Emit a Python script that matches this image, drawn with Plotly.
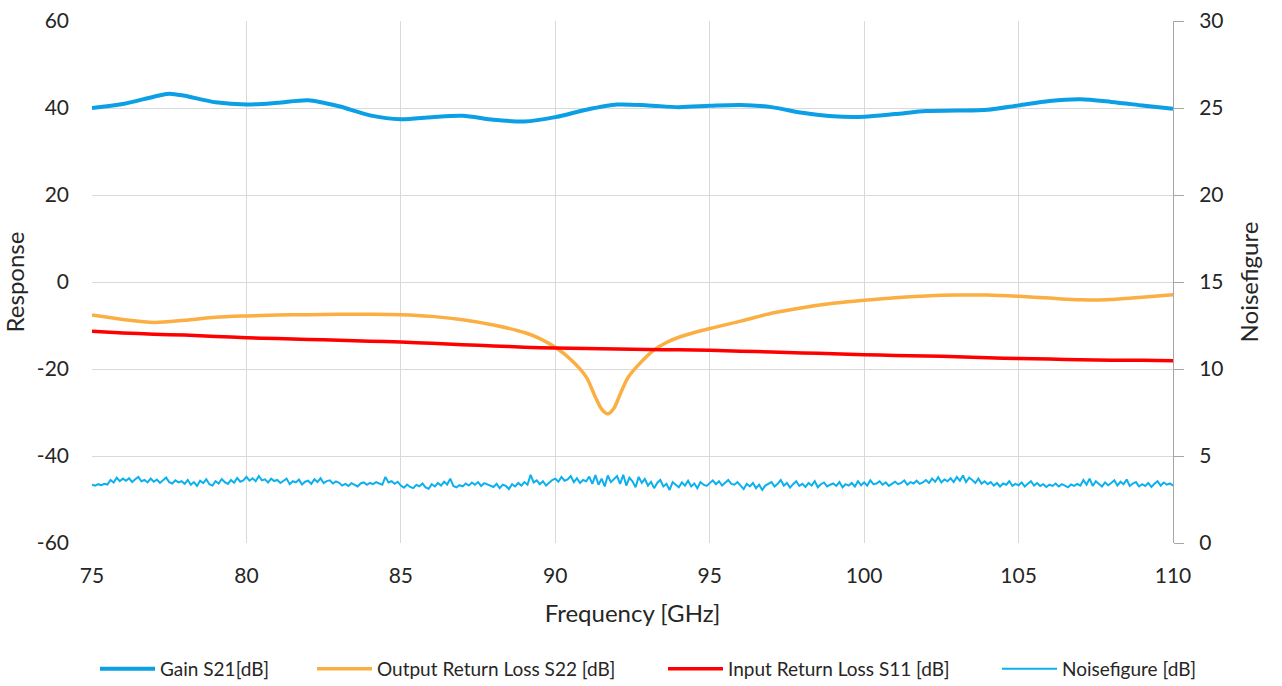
import plotly.graph_objects as go

# ---------------- data ----------------
gain_freq = [75, 76, 77, 77.5, 78, 79, 80, 81, 82, 83, 84, 85, 86, 87, 88, 89, 90, 91, 92, 93,
             94, 95, 96, 97, 98, 99, 100, 101, 102, 103, 104, 105, 106, 107, 108, 109, 110]
gain_s21 = [40.0, 40.9, 42.6, 43.3, 42.8, 41.3, 40.8, 41.2, 41.8, 40.4, 38.3, 37.4, 37.9, 38.2,
            37.3, 36.9, 37.9, 39.6, 40.8, 40.6, 40.2, 40.5, 40.7, 40.2, 38.9, 38.1, 38.0, 38.6,
            39.3, 39.4, 39.6, 40.6, 41.6, 42.0, 41.4, 40.6, 39.8]

s22_freq = [75, 76, 77, 78, 79, 80, 81, 82, 83, 84, 85, 86, 87, 88, 89, 89.5, 90, 90.5, 91,
            91.3, 91.5, 91.7, 91.9, 92.1, 92.35, 92.7, 93.2, 93.6, 94, 95, 96, 97, 98, 99, 100,
            101, 102, 103, 104, 105, 106, 107, 108, 109, 110]
s22 = [-7.6, -8.6, -9.3, -8.8, -8.1, -7.8, -7.6, -7.5, -7.4, -7.4, -7.5, -7.9, -8.7, -9.9,
       -11.6, -13.0, -15.0, -17.8, -21.8, -26.5, -29.2, -30.3, -29.0, -25.8, -22.0, -19.0,
       -15.6, -13.9, -12.7, -10.7, -9.0, -7.2, -5.9, -4.9, -4.2, -3.6, -3.2, -3.0, -3.0,
       -3.3, -3.7, -4.1, -4.0, -3.5, -2.9]

s11_freq = list(range(75, 111))
s11 = [-11.3, -11.7, -12.0, -12.2, -12.5, -12.8, -13.0, -13.2, -13.4, -13.6, -13.8, -14.1,
       -14.4, -14.7, -15.0, -15.2, -15.3, -15.4, -15.5, -15.6, -15.7, -15.9, -16.1, -16.3,
       -16.5, -16.7, -16.9, -17.0, -17.2, -17.4, -17.6, -17.7, -17.9, -18.0, -18.0, -18.1]

nf_values = [
    3.35, 3.30, 3.38, 3.32, 3.40, 3.36, 3.62, 3.48, 3.75, 3.55,
    3.70, 3.58, 3.72, 3.50, 3.66, 3.80, 3.55, 3.62, 3.48, 3.70,
    3.52, 3.64, 3.45, 3.58, 3.76, 3.50, 3.42, 3.60, 3.48, 3.55,
    3.40, 3.62, 3.35, 3.50, 3.28, 3.58, 3.44, 3.66, 3.38, 3.30,
    3.55, 3.42, 3.68, 3.50, 3.40, 3.62, 3.46, 3.74, 3.52, 3.60,
    3.80, 3.58, 3.72, 3.55, 3.85, 3.60, 3.66, 3.48, 3.70, 3.56,
    3.62, 3.45, 3.58, 3.70, 3.38, 3.55, 3.48, 3.64, 3.36, 3.52,
    3.58, 3.40, 3.66, 3.50, 3.72, 3.44, 3.56, 3.60, 3.42, 3.54,
    3.46, 3.30, 3.40, 3.28, 3.44, 3.36, 3.25, 3.42, 3.48, 3.34,
    3.45, 3.38, 3.50, 3.42, 3.35, 3.80, 3.48, 3.55, 3.40, 3.52,
    3.30, 3.18, 3.36, 3.22, 3.15, 3.34, 3.26, 3.42, 3.20, 3.12,
    3.38, 3.25, 3.45, 3.30, 3.52, 3.36, 3.70, 3.28, 3.20, 3.32,
    3.25, 3.42, 3.30, 3.48, 3.35, 3.50, 3.28, 3.44, 3.38, 3.30,
    3.22, 3.40, 3.15, 3.35, 3.28, 3.10, 3.38, 3.25, 3.45, 3.30,
    3.50, 3.35, 3.92, 3.48, 3.60, 3.38, 3.55, 3.30, 3.45, 3.62,
    3.70, 3.52, 3.80, 3.58, 3.66, 3.85, 3.50, 3.72, 3.45, 3.62,
    3.55, 3.82, 3.40, 3.90, 3.35, 3.70, 3.25, 3.88, 3.50, 3.65,
    3.85, 3.40, 3.92, 3.30, 3.75, 3.55, 3.20, 3.80, 3.45, 3.68,
    3.30, 3.52, 3.15, 3.45, 3.62, 3.25, 3.40, 3.05, 3.50, 3.35,
    3.20, 3.48, 3.30, 3.58, 3.25, 3.42, 3.15, 3.50, 3.35, 3.28,
    3.45, 3.60, 3.38, 3.55, 3.30, 3.48, 3.62, 3.40, 3.35, 3.50,
    3.28, 3.10, 3.40, 3.25, 3.45, 3.15, 3.35, 3.05, 3.30, 3.42,
    3.50, 3.25, 3.40, 3.62, 3.30, 3.45, 3.18, 3.38, 3.55, 3.28,
    3.40, 3.22, 3.45, 3.30, 3.55, 3.20, 3.38, 3.48, 3.25, 3.35,
    3.42, 3.28, 3.50, 3.20, 3.38, 3.30, 3.45, 3.25, 3.55, 3.32,
    3.48, 3.30, 3.60, 3.38, 3.42, 3.55, 3.35, 3.48, 3.28, 3.40,
    3.52, 3.38, 3.45, 3.60, 3.35, 3.50, 3.42, 3.58, 3.40, 3.48,
    3.62, 3.45, 3.70, 3.52, 3.78, 3.48, 3.65, 3.55, 3.72, 3.50,
    3.80, 3.58, 3.88, 3.50, 3.75, 3.62, 3.45, 3.70, 3.40, 3.55,
    3.38, 3.50, 3.30, 3.45, 3.25, 3.42, 3.35, 3.55, 3.28, 3.40,
    3.32, 3.48, 3.25, 3.40, 3.55, 3.30, 3.45, 3.28, 3.38, 3.22,
    3.35, 3.28, 3.42, 3.25, 3.38, 3.30, 3.20, 3.36, 3.28, 3.40,
    3.30, 3.62, 3.35, 3.70, 3.28, 3.55, 3.40, 3.25, 3.48, 3.32,
    3.45, 3.60, 3.30, 3.52, 3.38, 3.65, 3.28, 3.42, 3.50, 3.25,
    3.38, 3.28, 3.45, 3.22, 3.40, 3.55, 3.30, 3.48, 3.35, 3.42,
    3.30,
]
nf_freq = [round(75 + 0.1 * i, 1) for i in range(len(nf_values))]

x_ticks = [75, 80, 85, 90, 95, 100, 105, 110]
y_ticks = [-60, -40, -20, 0, 20, 40, 60]
y_ticktext = ["-60", "-40", "-20", "0", "20", "40", "60"]
y2_ticks = [0, 5, 10, 15, 20, 25, 30]

# ---------------- figure ----------------
FONT = "Lato"
GRID = "#d9d9d9"
TXT = "#262626"
L, R, T, B = 92, 109, 21, 143
PW = 1282 - L - R

def legend_at(px):
    return dict(orientation="h", xref="paper", x=(px - L) / PW, xanchor="left",
                yref="container", y=(686 - 669) / 686, yanchor="middle",
                font=dict(size=19, family=FONT, color=TXT), itemwidth=55,
                bgcolor="rgba(0,0,0,0)", borderwidth=0)

fig = go.Figure()
fig.add_trace(go.Scatter(x=gain_freq, y=gain_s21, name="Gain S21[dB]", mode="lines",
                         legend="legend",
                         line=dict(color="#0B9FE6", width=4, shape="spline", smoothing=0.8)))
fig.add_trace(go.Scatter(x=s22_freq, y=s22, name="Output Return Loss S22 [dB]", mode="lines",
                         legend="legend2",
                         line=dict(color="#FBAE42", width=3.5, shape="spline", smoothing=0.8)))
fig.add_trace(go.Scatter(x=s11_freq, y=s11, name="Input Return Loss S11 [dB]", mode="lines",
                         legend="legend3",
                         line=dict(color="#FF0000", width=3.5, shape="spline", smoothing=0.6)))
fig.add_trace(go.Scatter(x=nf_freq, y=nf_values, name="Noisefigure [dB]", mode="lines",
                         yaxis="y2", legend="legend4",
                         line=dict(color="#0DB0EE", width=2)))

fig.update_layout(
    width=1282, height=686,
    margin=dict(l=L, r=R, t=T, b=B, autoexpand=False),
    paper_bgcolor="white", plot_bgcolor="white",
    font=dict(family=FONT, color=TXT, size=21),
    showlegend=True,
    legend=legend_at(95),
    legend2=legend_at(312),
    legend3=legend_at(663),
    legend4=legend_at(997),
    xaxis=dict(range=[75, 110], tickvals=x_ticks, showgrid=True, gridcolor=GRID, gridwidth=1,
               zeroline=False, showline=False, ticks="", ticklabelstandoff=18,
               title=dict(text="Frequency [GHz]", font=dict(size=24), standoff=19)),
    yaxis=dict(range=[-60, 60], tickvals=y_ticks, ticktext=y_ticktext, showgrid=True,
               gridcolor=GRID, gridwidth=1, zeroline=False, showline=False, ticks="",
               ticklabelstandoff=22,
               title=dict(text="Response", font=dict(size=24), standoff=10)),
    yaxis2=dict(range=[0, 30], tickvals=y2_ticks, overlaying="y", side="right", showgrid=False,
                zeroline=False, showline=True, linecolor="#a6a6a6", linewidth=1,
                ticks="outside", ticklen=10, tickcolor="#a6a6a6", ticklabelstandoff=11,
                title=dict(text="Noisefigure", font=dict(size=24), standoff=18)),
)

fig.write_html("out.html")
